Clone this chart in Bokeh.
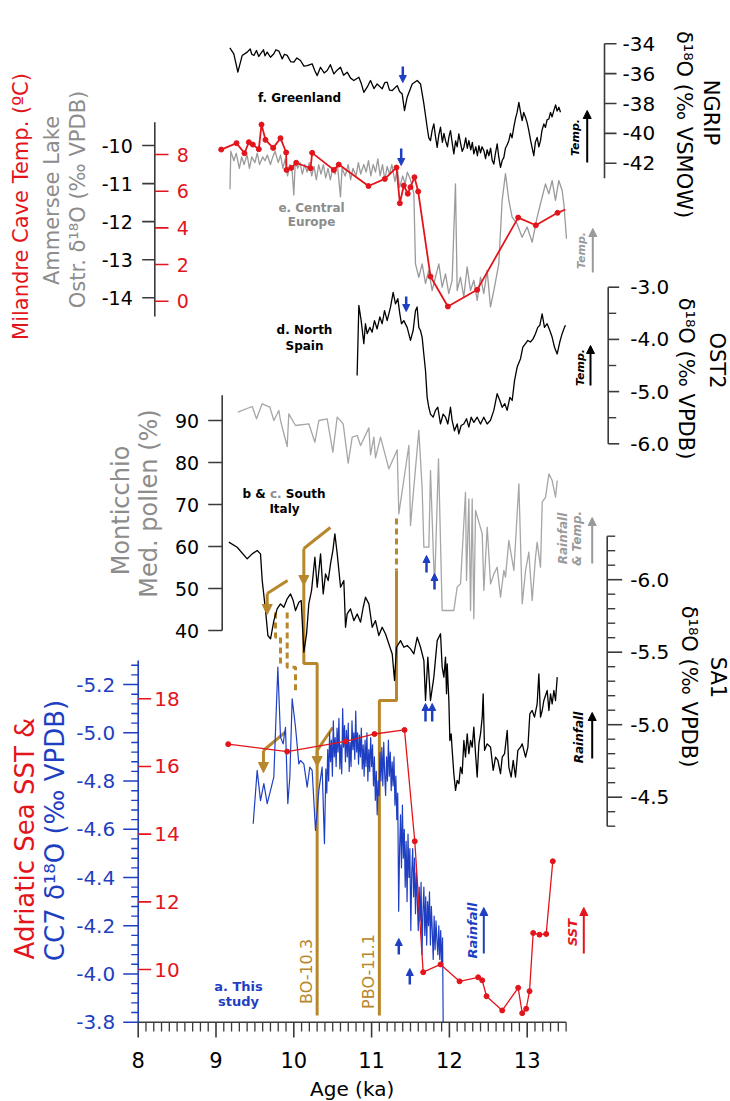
import math
from bokeh.plotting import figure
from bokeh.models import Range1d, Arrow, NormalHead
from bokeh.core.properties import value
from bokeh.embed import file_html
from bokeh.resources import INLINE

# ---------------- data (age ka, value) ----------------
ngrip = [(9.178,-34.27),(9.229,-34.67),(9.281,-35.90),(9.337,-34.78),(9.401,-34.56),(9.44,-34.35),(9.46,-34.70),
         (9.487,-34.78),(9.52,-34.45),(9.55,-34.85),(9.572,-34.67),(9.61,-34.40),(9.63,-34.80),(9.658,-34.56),
         (9.70,-34.90),(9.744,-34.67),(9.77,-34.40),(9.808,-34.49),(9.851,-35.01),(9.88,-34.70),(9.915,-34.78),
         (9.96,-35.20),(10.001,-35.23),(10.04,-34.95),(10.086,-35.12),(10.13,-35.50),(10.172,-35.46),(10.236,-35.34),
         (10.27,-35.80),(10.301,-36.13),(10.343,-35.57),(10.39,-35.95),(10.429,-35.79),(10.47,-35.40),(10.515,-36.02),
         (10.56,-35.75),(10.600,-35.57),(10.64,-36.10),(10.686,-35.90),(10.73,-36.30),(10.772,-36.46),(10.836,-36.24),
         (10.87,-36.70),(10.900,-37.25),(10.943,-36.91),(10.986,-36.46),(11.03,-37.00),(11.072,-36.69),(11.136,-37.02),
         (11.17,-36.60),(11.200,-36.57),(11.23,-37.10),(11.265,-37.13),(11.329,-36.80),(11.36,-37.20),(11.393,-37.36),
         (11.423,-38.48),(11.457,-37.58),(11.522,-36.69),(11.586,-36.46),(11.629,-36.69),(11.672,-38.03),(11.714,-39.59),
         (11.735,-40.30),(11.757,-40.49),(11.778,-39.80),(11.800,-39.37),(11.821,-40.20),(11.843,-40.94),(11.864,-40.10),
         (11.886,-39.59),(11.910,-40.60),(11.930,-40.00),(11.950,-40.49),(11.975,-40.90),(11.995,-40.20),(12.014,-39.82),
         (12.035,-40.60),(12.057,-41.38),(12.080,-40.50),(12.100,-40.90),(12.121,-40.04),(12.145,-40.70),(12.165,-41.20),
         (12.186,-40.94),(12.210,-40.30),(12.230,-41.00),(12.250,-40.49),(12.275,-41.10),(12.295,-40.60),(12.314,-41.38),
         (12.340,-40.90),(12.360,-41.50),(12.379,-40.83),(12.400,-41.30),(12.420,-40.90),(12.443,-41.16),(12.465,-41.70),
         (12.485,-41.10),(12.507,-41.50),(12.530,-41.00),(12.550,-41.80),(12.571,-42.06),(12.590,-41.40),(12.614,-40.71),
         (12.635,-41.60),(12.657,-42.28),(12.680,-41.80),(12.700,-41.61),(12.720,-41.00),(12.740,-40.80),(12.764,-40.49),
         (12.785,-40.00),(12.805,-40.30),(12.828,-39.59),(12.850,-39.00),(12.870,-38.60),(12.893,-37.92),(12.915,-38.60),
         (12.935,-39.15),(12.955,-38.60),(12.978,-38.92),(13.000,-39.30),(13.021,-39.82),(13.045,-40.50),(13.065,-41.00),
         (13.085,-41.50),(13.105,-40.60),(13.128,-40.27),(13.150,-40.90),(13.171,-40.49),(13.190,-39.80),(13.214,-39.37),
         (13.235,-39.60),(13.255,-39.10),(13.278,-39.04),(13.300,-38.60),(13.320,-38.90),(13.342,-38.48),(13.365,-38.10),
         (13.385,-38.50),(13.407,-38.25),(13.428,-38.59)]

ammersee = [(9.18,-11.15),(9.19,-10.15),(9.23,-10.40),(9.26,-10.20),(9.30,-10.60),(9.33,-10.30),(9.36,-10.50),(9.40,-10.25),
            (9.43,-10.60),(9.46,-10.30),(9.50,-10.45),(9.53,-10.20),(9.56,-10.50),(9.60,-10.30),(9.63,-10.40),(9.66,-10.25),
            (9.70,-10.50),(9.73,-10.30),(9.76,-10.15),(9.80,-10.45),(9.83,-10.25),(9.86,-10.60),(9.89,-10.35),(9.92,-10.80),
            (9.95,-10.50),(9.98,-10.70),(10.00,-11.30),(10.02,-10.40),(10.05,-10.60),(10.08,-10.45),(10.11,-10.75),(10.14,-10.50),
            (10.17,-10.70),(10.20,-10.45),(10.23,-10.80),(10.26,-10.55),(10.29,-10.90),(10.32,-10.50),(10.35,-10.75),(10.38,-10.50),
            (10.41,-10.85),(10.44,-10.60),(10.47,-10.90),(10.50,-10.60),(10.53,-10.75),(10.56,-10.50),(10.60,-11.35),(10.62,-10.60),
            (10.66,-10.80),(10.70,-10.50),(10.73,-10.90),(10.76,-10.60),(10.80,-10.80),(10.83,-10.45),(10.86,-10.75),(10.90,-10.50),
            (10.93,-10.70),(10.96,-10.40),(10.99,-10.80),(11.02,-10.50),(11.05,-10.70),(11.08,-10.35),(11.11,-10.80),(11.14,-10.50),
            (11.17,-10.90),(11.20,-10.55),(11.23,-10.75),(11.26,-10.50),(11.30,-10.95),(11.33,-10.60),(11.36,-11.10),(11.40,-10.80),
            (11.43,-11.00),(11.46,-10.70),(11.50,-10.90),(11.543,-11.27),(11.564,-13.11),(11.607,-13.46),(11.650,-13.11),
            (11.693,-13.63),(11.735,-13.28),(11.778,-13.81),(11.821,-13.46),(11.864,-13.11),(11.907,-13.72),(11.950,-13.37),
            (11.992,-13.89),(12.035,-13.54),(12.078,-11.01),(12.100,-13.81),(12.142,-13.46),(12.185,-13.98),(12.228,-13.19),
            (12.271,-13.81),(12.314,-13.54),(12.357,-14.07),(12.400,-13.46),(12.442,-13.89),(12.485,-13.28),(12.528,-14.24),
            (12.571,-13.81),(12.635,-13.11),(12.678,-11.44),(12.721,-10.74),(12.764,-11.44),(12.806,-11.88),(12.871,-12.06),
            (12.935,-12.41),(12.999,-12.14),(13.064,-12.54),(13.128,-11.88),(13.192,-11.36),(13.235,-11.01),(13.278,-11.27),
            (13.321,-10.92),(13.363,-11.44),(13.406,-10.92),(13.449,-11.18),(13.471,-11.53),(13.505,-12.45)]

milandre = [(9.067,8.27),(9.264,8.62),(9.366,8.07),(9.422,8.67),(9.473,8.54),(9.550,8.29),(9.585,9.63),(9.636,8.80),
            (9.735,8.36),(9.829,8.89),(9.902,8.11),(9.906,7.16),(9.967,7.27),(10.031,7.55),(10.215,7.25),(10.236,8.09),
            (10.514,7.16),(10.578,7.45),(10.96,6.28),(11.17,6.67),(11.32,7.29),(11.363,5.34),(11.414,6.31),(11.465,5.86),
            (11.500,6.22),(11.551,6.76),(11.599,5.98),(11.757,1.35),(11.980,-0.29),(12.357,0.62),(12.884,4.56),
            (13.111,4.14),(13.390,4.82)]
milandre_end = [(13.390,4.82),(13.49,5.00)]

ost2 = [(10.814,-4.69),(10.836,-3.35),(10.866,-3.64),(10.900,-4.08),(10.921,-3.70),(10.943,-3.89),(10.977,-3.77),
        (11.007,-3.86),(11.037,-3.64),(11.071,-3.80),(11.106,-3.57),(11.136,-3.70),(11.166,-3.45),(11.200,-3.64),
        (11.243,-3.38),(11.277,-3.10),(11.307,-3.32),(11.337,-3.22),(11.363,-3.51),(11.384,-3.70),(11.414,-3.64),
        (11.457,-3.77),(11.500,-4.02),(11.534,-3.83),(11.564,-3.45),(11.585,-3.38),(11.607,-3.77),(11.628,-3.83),
        (11.650,-3.96),(11.671,-4.28),(11.693,-4.60),(11.714,-5.11),(11.735,-5.30),(11.757,-5.43),(11.791,-5.49),
        (11.821,-5.36),(11.851,-5.30),(11.885,-5.62),(11.920,-5.43),(11.950,-5.49),(11.980,-5.62),(12.014,-5.30),
        (12.035,-5.55),(12.065,-5.75),(12.100,-5.62),(12.121,-5.81),(12.151,-5.65),(12.185,-5.62),(12.220,-5.52),
        (12.250,-5.68),(12.280,-5.49),(12.314,-5.59),(12.357,-5.49),(12.400,-5.62),(12.442,-5.49),(12.485,-5.62),
        (12.528,-5.55),(12.571,-5.36),(12.614,-5.04),(12.648,-5.17),(12.678,-5.30),(12.712,-5.23),(12.742,-5.36),
        (12.777,-5.11),(12.807,-5.17),(12.837,-4.79),(12.871,-4.53),(12.914,-4.37),(12.944,-4.15),(12.978,-4.08),
        (13.008,-4.02),(13.042,-4.05),(13.076,-3.99),(13.106,-3.89),(13.136,-3.77),(13.162,-3.73),(13.192,-3.51),
        (13.222,-3.77),(13.256,-3.70),(13.291,-3.83),(13.321,-3.96),(13.351,-4.15),(13.385,-4.28),(13.419,-4.05),
        (13.449,-3.89),(13.479,-3.77),(13.492,-3.73)]

pollen = [(9.281,91.98),(9.465,93.33),(9.521,90.40),(9.594,93.97),(9.692,93.17),(9.744,90.0),(9.808,92.38),(9.829,90.0),
          (9.915,83.81),(9.936,91.59),(10.022,88.81),(10.193,89.21),(10.271,84.84),(10.322,90.0),(10.429,90.40),(10.502,82.46),
          (10.558,90.79),(10.635,89.21),(10.699,79.84),(10.751,86.03),(10.815,86.43),(10.858,84.05),(10.965,88.25),
          (10.986,81.83),(11.029,86.03),(11.050,81.11),(11.115,86.03),(11.222,78.49),(11.329,83.02),(11.350,67.78),
          (11.479,84.05),(11.500,65.0),(11.607,87.62),(11.650,73.73),(11.672,59.84),(11.736,59.84),(11.757,78.10),
          (11.809,50.0),(11.860,80.87),(11.907,44.76),(12.057,44.76),(12.100,50.32),(12.143,51.11),(12.207,72.94),
          (12.220,51.90),(12.250,71.35),(12.272,44.76),(12.293,71.35),(12.314,42.78),(12.336,68.57),(12.422,63.02),
          (12.443,49.52),(12.486,64.60),(12.529,51.11),(12.572,53.49),(12.614,55.08),(12.657,47.94),(12.700,54.29),
          (12.721,52.70),(12.764,61.43),(12.829,54.29),(12.893,74.92),(12.936,46.35),(12.979,54.29),(13.021,58.65),
          (13.064,47.14),(13.107,57.46),(13.128,61.03),(13.171,55.08),(13.193,70.56),(13.236,71.75),(13.279,77.30),
          (13.321,75.71),(13.364,71.75),(13.386,75.71)]

sa1 = [(9.165,-6.259),(9.272,-6.224),(9.401,-6.144),(9.465,-6.178),(9.529,-6.201),(9.572,-6.178),(9.594,-5.994),
       (9.637,-5.787),(9.667,-5.615),(9.701,-5.592),(9.744,-5.718),(9.786,-5.799),(9.829,-5.833),(9.872,-5.810),
       (9.915,-5.868),(9.958,-5.902),(9.992,-5.856),(10.022,-5.787),(10.065,-5.845),(10.095,-5.856),(10.129,-5.500),
       (10.164,-5.626),(10.193,-5.833),(10.228,-5.925),(10.271,-6.155),(10.301,-5.948),(10.344,-6.178),(10.378,-5.902),
       (10.408,-6.040),(10.442,-5.994),(10.472,-6.109),(10.502,-6.201),(10.528,-6.316),(10.558,-6.178),(10.601,-5.948),
       (10.643,-5.994),(10.665,-5.672),(10.686,-5.764),(10.729,-5.799),(10.772,-5.718),(10.815,-5.764),(10.858,-5.707),
       (10.892,-5.810),(10.922,-5.879),(10.965,-5.833),(11.008,-5.672),(11.050,-5.718),(11.093,-5.615),(11.136,-5.672),
       (11.179,-5.626),(11.222,-5.557),(11.265,-5.488),(11.295,-5.305),(11.320,-5.534),(11.372,-5.580),(11.415,-5.534),
       (11.457,-5.546),(11.500,-5.523),(11.543,-5.488),(11.586,-5.603),(11.629,-5.534),(11.672,-5.442),(11.693,-5.167),
       (11.723,-5.466),(11.757,-5.167),(11.800,-5.328),(11.843,-5.580),(11.886,-5.627),(11.907,-5.397),(11.929,-5.328),
       (11.950,-5.466),(11.963,-5.213),(11.972,-5.420),(11.993,-5.167),(12.006,-4.891),(12.023,-4.937),(12.036,-4.823),
       (12.057,-4.662),(12.079,-4.547),(12.100,-4.616),(12.122,-4.593),(12.143,-4.708),(12.164,-4.662),(12.186,-4.891),
       (12.207,-4.777),(12.229,-4.937),(12.250,-4.800),(12.272,-4.891),(12.293,-4.845),(12.314,-4.983),(12.336,-4.800),
       (12.357,-4.639),(12.379,-4.868),(12.400,-4.937),(12.422,-5.052),(12.434,-5.213),(12.452,-4.823),(12.486,-4.868),
       (12.529,-4.845),(12.563,-4.685),(12.593,-4.777),(12.623,-4.754),(12.657,-4.662),(12.679,-4.777),(12.709,-4.800),
       (12.743,-4.960),(12.764,-4.708),(12.794,-4.639),(12.820,-4.754),(12.850,-4.639),(12.880,-4.823),(12.914,-4.845),
       (12.936,-4.868),(12.979,-4.777),(13.009,-4.845),(13.034,-5.075),(13.064,-5.098),(13.094,-5.052),(13.128,-5.144),
       (13.150,-5.351),(13.171,-5.052),(13.193,-5.098),(13.214,-5.167),(13.257,-5.236),(13.279,-5.098),(13.300,-5.213),
       (13.321,-5.144),(13.343,-5.236),(13.364,-5.167),(13.386,-5.328)]

cc7 = [(9.478,-4.623),(9.529,-4.844),(9.572,-4.719),(9.615,-4.789),(9.658,-4.706),(9.701,-4.761),(9.743,-4.816),
       (9.795,-5.272),(9.829,-4.982),(9.863,-4.954),(9.893,-5.023),(9.923,-4.706),(9.949,-4.816),(9.979,-5.141),
       (10.022,-5.023),(10.065,-4.871),(10.086,-4.885),(10.129,-4.871),(10.172,-4.775),(10.206,-4.858),(10.236,-4.844),
       (10.279,-4.595),(10.322,-4.761),(10.364,-4.858),(10.394,-4.540),
       (10.412,-4.85),(10.424,-4.75),(10.436,-4.93),(10.448,-4.80),(10.460,-5.00),(10.472,-4.88),(10.484,-4.97),
       (10.496,-4.82),(10.508,-5.05),(10.520,-4.90),(10.532,-4.98),(10.544,-4.86),(10.556,-5.02),(10.568,-4.92),
       (10.580,-5.06),(10.592,-4.85),(10.604,-4.95),(10.616,-4.83),(10.628,-5.10),(10.640,-4.94),(10.652,-5.03),
       (10.664,-4.88),(10.676,-5.01),(10.688,-4.90),(10.700,-5.04),(10.712,-4.84),(10.724,-4.96),(10.736,-4.86),
       (10.748,-5.05),(10.760,-4.93),(10.772,-5.00),(10.784,-4.89),(10.796,-5.09),(10.808,-4.92),(10.820,-5.00),
       (10.832,-4.87),(10.844,-4.99),(10.856,-4.90),(10.868,-5.02),(10.880,-4.85),(10.892,-4.95),(10.904,-4.82),
       (10.916,-4.97),(10.928,-4.86),(10.940,-5.00),(10.952,-4.80),(10.964,-4.93),(10.976,-4.84),(10.988,-4.98),
       (11.000,-4.86),(11.012,-4.95),(11.024,-4.78),(11.036,-4.90),(11.048,-4.72),(11.060,-4.84),(11.072,-4.66),
       (11.084,-4.80),(11.096,-4.74),(11.108,-4.92),(11.120,-4.80),(11.132,-4.94),(11.144,-4.78),(11.156,-4.96),
       (11.168,-4.83),(11.180,-4.74),(11.192,-4.90),(11.204,-4.80),(11.216,-4.97),(11.228,-4.82),(11.240,-4.92),
       (11.252,-4.76),(11.264,-4.88),(11.276,-4.78),(11.288,-4.90),(11.300,-4.70),(11.312,-4.82),(11.324,-4.64),
       (11.336,-4.75),(11.348,-4.26),(11.360,-4.52),(11.372,-4.66),(11.384,-4.44),(11.396,-4.70),(11.408,-4.48),
       (11.420,-4.60),(11.432,-4.36),(11.444,-4.55),(11.456,-4.30),(11.468,-4.58),(11.480,-4.40),(11.492,-4.52),
       (11.504,-4.18),(11.516,-4.42),(11.528,-4.52),(11.540,-4.32),(11.552,-4.48),(11.564,-4.25),(11.576,-4.42),
       (11.588,-4.30),(11.600,-4.18),(11.612,-4.36),(11.624,-4.22),(11.636,-4.38),(11.648,-4.08),(11.660,-4.26),
       (11.672,-4.36),(11.684,-4.16),(11.696,-4.32),(11.708,-4.12),(11.720,-4.30),(11.732,-4.20),(11.744,-4.34),
       (11.756,-4.12),(11.768,-4.28),(11.780,-4.18),(11.792,-4.06),(11.804,-4.24),(11.816,-4.10),(11.828,-4.22),
       (11.840,-4.14),(11.852,-4.08),(11.864,-4.20),(11.876,-4.06),(11.888,-4.18),(11.900,-4.04),(11.912,-4.15),
       (11.920,-3.80)]

sst = [(9.157,16.66),(9.915,16.44),(10.665,16.74),(11.037,16.96),(11.423,17.08),(11.555,13.79),(11.663,9.92),
       (11.886,10.15),(12.130,9.65),(12.370,9.77),(12.422,9.68),(12.477,9.21),(12.679,8.79),(12.884,9.46),
       (12.936,8.71),(12.987,8.84),(13.030,9.36),(13.077,11.08),(13.158,11.03),(13.244,11.05),(13.329,13.20)]

x_ticks = [8, 9, 10, 11, 12, 13]
bo_age, pbo_age = 10.3, 11.1

# ---------------- layout helpers ----------------
W, H = 730, 1101
X0, KX = 137.7, 77.8          # pixel of 8 ka, pixels per ka
FONT = "DejaVu Sans"
RED, BLUE, GRAY, TAN, AX = "#e3151c", "#1f3fc2", "#9a9a9a", "#b8862b", "#3a3a3a"


def P(ka):
    return X0 + (ka - 8) * KX


def K(px):
    return 8 + (px - X0) / KX


YR = {}


def yr_add(name, v1, p1, v2, p2):
    s = (v2 - v1) / (p2 - p1)
    YR[name] = Range1d(start=v1 + (H - p1) * s, end=v1 - p1 * s)


yr_add("ngrip", -34, 43.3, -42, 162.7)
yr_add("amm", -10, 145, -14, 297.3)
yr_add("mil", 8, 154, 0, 300.7)
yr_add("ost2", -3.0, 286.7, -6.0, 443.3)
yr_add("pol", 90, 420, 40, 630)
yr_add("sa1", -6.0, 579.2, -4.5, 796.7)
yr_add("cc7", -5.0, 732.3, -3.8, 1021.7)
yr_add("sst", 18, 698.3, 10, 969)

p = figure(width=W, height=H, x_range=Range1d(0, W), y_range=Range1d(H, 0),
           x_axis_type=None, y_axis_type=None, toolbar_location=None,
           output_backend="svg", min_border=0, outline_line_color=None)
p.background_fill_color = "white"
p.border_fill_color = "white"
p.extra_x_ranges = {"ka": Range1d(K(0), K(W))}
p.extra_y_ranges = YR


def txt(x, y, s, color="black", size="12px", style="bold", align="center", angle=0.0, base="middle", **kw):
    p.text(x=[x], y=[y], text=[s], text_color=color, text_font=value(FONT), text_font_size=size,
           text_font_style=style, text_align=align, text_baseline=base, angle=angle, **kw)


def arrow(x, y0, y1, color, w=2.0, size=8):
    p.add_layout(Arrow(end=NormalHead(size=size, fill_color=color, line_color=color, line_width=1),
                       x_start=x, y_start=y0, x_end=x, y_end=y1, line_color=color, line_width=w))


def vaxis(rn, xpx, lo, hi, majors, labels, side, maj_len, lab_off, line_color=AX, tick_color=AX,
          lab_color="black", minors=(), min_len=7, fs="20px", line=True):
    sg = -1 if side == "left" else 1
    if line:
        p.segment(x0=[xpx], y0=[lo], x1=[xpx], y1=[hi], y_range_name=rn, line_color=line_color, line_width=1.6)
    n = len(majors)
    p.segment(x0=[xpx] * n, y0=majors, x1=[xpx + sg * maj_len] * n, y1=majors, y_range_name=rn,
              line_color=tick_color, line_width=1.6)
    if minors:
        m = len(minors)
        p.segment(x0=[xpx] * m, y0=list(minors), x1=[xpx + sg * min_len] * m, y1=list(minors), y_range_name=rn,
                  line_color=tick_color, line_width=1.4)
    p.text(x=[xpx + sg * lab_off] * n, y=majors, text=labels, y_range_name=rn,
           text_align="right" if sg < 0 else "left", text_baseline="middle", text_color=lab_color,
           text_font=value(FONT), text_font_size=fs)


def series(rn, data, color, width, dots=False, size=5):
    xs = [a for a, _ in data]
    ys = [b for _, b in data]
    p.line(x=xs, y=ys, x_range_name="ka", y_range_name=rn, line_color=color, line_width=width, line_join="round")
    if dots:
        p.scatter(x=xs, y=ys, x_range_name="ka", y_range_name=rn, size=size, fill_color=color,
                  line_color=color, marker="circle")


# ---------------- axes ----------------
p.segment(x0=[8], y0=[1021.7], x1=[13.5], y1=[1021.7], x_range_name="ka", line_color=AX, line_width=1.6)
p.segment(x0=x_ticks, y0=[1021.7] * 6, x1=x_ticks, y1=[1037] * 6, x_range_name="ka", line_color=AX, line_width=1.6)
xm = [round(8 + 0.1 * i, 1) for i in range(56) if i % 10]
p.segment(x0=xm, y0=[1021.7] * len(xm), x1=xm, y1=[1031] * len(xm), x_range_name="ka", line_color=AX, line_width=1.3)
p.text(x=x_ticks, y=[1059] * 6, text=[str(t) for t in x_ticks], x_range_name="ka", text_align="center",
       text_baseline="middle", text_font=value(FONT), text_font_size="21px", text_color="black")
txt(P(10.75), 1088, "Age (ka)", size="20px", style="normal")

vaxis("ngrip", 604, -34, -43, [-34, -36, -38, -40, -42], ["-34", "-36", "-38", "-40", "-42"], "right", 12, 18)
vaxis("amm", 154.3, -9.39, -14.49, [-10, -11, -12, -13, -14], ["-10", "-11", "-12", "-13", "-14"], "left", 12.6, 22,
      fs="19px")
vaxis("mil", 154.3, 0, 8, [0, 2, 4, 6, 8], ["0", "2", "4", "6", "8"], "right", 13.7, 22, tick_color=RED,
      lab_color=RED, fs="19px", line=False)
vaxis("ost2", 607.7, -3.0, -6.0, [-3.0, -4.0, -5.0, -6.0], ["-3.0", "-4.0", "-5.0", "-6.0"], "right", 11, 22,
      minors=[-3.5, -4.5, -5.5], min_len=8)
vaxis("pol", 221.7, 96, 40, [40, 50, 60, 70, 80, 90], ["40", "50", "60", "70", "80", "90"], "left", 14, 23,
      fs="19px")
sa1_min = [round(-6.3 + 0.1 * i, 1) for i in range(21) if round((-6.3 + 0.1 * i) * 10) % 5]
vaxis("sa1", 606.7, -6.3, -4.3, [-6.0, -5.5, -5.0, -4.5], ["-6.0", "-5.5", "-5.0", "-4.5"], "right", 15, 23,
      minors=sa1_min, min_len=8)
cc7_maj = [round(-3.8 - 0.2 * i, 1) for i in range(8)]
cc7_min = [round(-3.8 - 0.04 * i, 2) for i in range(38) if i % 5]
vaxis("cc7", 137.7, -3.8, -5.3, cc7_maj, ["%.1f" % v for v in cc7_maj], "left", 15, 23, line_color=BLUE,
      tick_color=BLUE, lab_color=BLUE, minors=cc7_min, min_len=7)
vaxis("sst", 137.7, 10, 18, [10, 12, 14, 16, 18], ["10", "12", "14", "16", "18"], "right", 13, 16,
      tick_color=RED, lab_color=RED, line=False)

# axis titles
HALF = math.pi / 2
txt(710, 112, "NGRIP", size="21px", style="normal", angle=-HALF)
txt(683, 124, "δ¹⁸O (‰ VSMOW)", size="21px", style="normal", angle=-HALF)
txt(716, 360, "OST2", size="21px", style="normal", angle=-HALF)
txt(685, 378, "δ¹⁸O (‰ VPDB)", size="21px", style="normal", angle=-HALF)
txt(717, 677, "SA1", size="21px", style="normal", angle=-HALF)
txt(688, 686, "δ¹⁸O (‰ VPDB)", size="21px", style="normal", angle=-HALF)
txt(20, 206, "Milandre Cave Temp. (ºC)", color=RED, size="21px", style="normal", angle=HALF)
txt(51, 200, "Ammersee Lake", color="#8c8c8c", size="21px", style="normal", angle=HALF)
txt(77, 199, "Ostr. δ¹⁸O (‰ VPDB)", color="#8c8c8c", size="21px", style="normal", angle=HALF)
txt(120, 510, "Monticchio", color="#8c8c8c", size="24px", style="normal", angle=HALF)
txt(148, 503, "Med. pollen (%)", color="#8c8c8c", size="24px", style="normal", angle=HALF)
txt(24, 838, "Adriatic Sea SST &", color=RED, size="26px", style="normal", angle=HALF)
txt(54, 830, "CC7 δ¹⁸O (‰ VPDB)", color=BLUE, size="26px", style="normal", angle=HALF)

# ---------------- event markers (tan) ----------------
tan_solid = [
    ([P(9.658), P(9.92)], [593, 580]),
    ([P(10.129), P(10.47)], [548, 527]),
    ([P(10.129), P(10.129), P(bo_age), P(bo_age)], [583, 663, 663, 1015]),
    ([P(11.32), P(11.32), P(pbo_age), P(pbo_age)], [570, 700, 700, 1015]),
    ([P(9.61), P(9.89)], [750, 731.7]),
    ([P(bo_age), P(10.50)], [750, 727]),
]
for xs, ys in tan_solid:
    p.line(x=xs, y=ys, line_color=TAN, line_width=3)
tan_dash = [
    ([P(9.765), P(9.765), P(9.829), P(9.829)], [612, 636.7, 636.7, 666.7]),
    ([P(9.915), P(9.915), P(10.022), P(10.022)], [612, 666.7, 666.7, 693.3]),
    ([P(11.32), P(11.32)], [518, 570]),
]
for xs, ys in tan_dash:
    p.line(x=xs, y=ys, line_color=TAN, line_width=3, line_dash="6 4")
arrow(P(9.658), 593, 614, TAN, w=3, size=10)
arrow(P(10.129), 548, 585, TAN, w=3, size=10)
arrow(P(9.61), 750, 772, TAN, w=3, size=10)
arrow(P(bo_age), 750, 766, TAN, w=3, size=10)
txt(P(bo_age) - 11, 971, "BO-10.3", color=TAN, size="16px", style="normal", angle=HALF)
txt(P(pbo_age) - 11, 971, "PBO-11.1", color=TAN, size="16px", style="normal", angle=HALF)

# ---------------- data series ----------------
series("ngrip", ngrip, "black", 1.3)
series("amm", ammersee, GRAY, 1.3)
series("mil", milandre, RED, 1.8, dots=True, size=5)
series("mil", milandre_end, RED, 1.8)
series("ost2", ost2, "black", 1.3)
series("pol", pollen, "#a6a6a6", 1.3)
series("sa1", sa1, "black", 1.3)
series("cc7", cc7, BLUE, 1.2)
series("sst", sst, RED, 1.3, dots=True, size=5)

# ---------------- annotations ----------------
txt(299, 97, "f. Greenland", size="12px")
txt(311, 207, "e. Central", color="#8c8c8c", size="12px")
txt(311, 221, "Europe", color="#8c8c8c", size="12px")
txt(304, 329, "d. North", size="12px")
txt(304, 345, "Spain", size="12px")
txt(242, 493, "b &", size="12px", align="left")
txt(269.4, 493, "c.", color="#8c8c8c", size="12px", align="left")
txt(285.3, 493, "South", size="12px", align="left")
txt(284, 508, "Italy", size="12px")
txt(238, 986, "a. This", color=BLUE, size="13px")
txt(238, 1001, "study", color=BLUE, size="13px")

# blue event arrows
arrow(402.3, 66, 82, BLUE, w=2.5, size=7)
arrow(400.7, 148, 165, BLUE, w=2.5, size=7)
arrow(405.7, 296, 311, BLUE, w=2.5, size=7)
arrow(426, 572, 555, BLUE, w=2.5, size=7)
arrow(434, 589, 573, BLUE, w=2.5, size=7)
arrow(425, 721, 703, BLUE, w=2.5, size=7)
arrow(431.7, 721, 703, BLUE, w=2.5, size=7)
arrow(398.3, 954, 938, BLUE, w=2.5, size=7)
arrow(409.3, 984, 968, BLUE, w=2.5, size=7)

# direction arrows with labels
arrow(586.7, 162, 110, "black", w=2, size=8)
txt(575, 137, "Temp.", size="11px", style="bold italic", angle=HALF)
arrow(592.3, 272, 228, GRAY, w=2, size=8)
txt(580.7, 250, "Temp.", color=GRAY, size="11px", style="bold italic", angle=HALF)
arrow(590, 385, 345, "black", w=2, size=8)
txt(580, 367, "Temp.", size="11px", style="bold italic", angle=HALF)
arrow(591.7, 563, 517, GRAY, w=2, size=8)
txt(562, 538, "Rainfall", color=GRAY, size="12px", style="bold italic", angle=HALF)
txt(576, 538, "& Temp.", color=GRAY, size="12px", style="bold italic", angle=HALF)
arrow(591.7, 758, 712, "black", w=2, size=8)
txt(578, 737, "Rainfall", size="12px", style="bold italic", angle=HALF)
arrow(483.3, 953, 907, BLUE, w=2, size=8)
txt(471.7, 930, "Rainfall", color=BLUE, size="13px", style="bold italic", angle=HALF)
arrow(583.3, 953, 907, RED, w=2, size=8)
txt(571.7, 932, "SST", color=RED, size="13px", style="bold italic", angle=HALF)

open("out.html", "w").write(file_html(p, INLINE))
